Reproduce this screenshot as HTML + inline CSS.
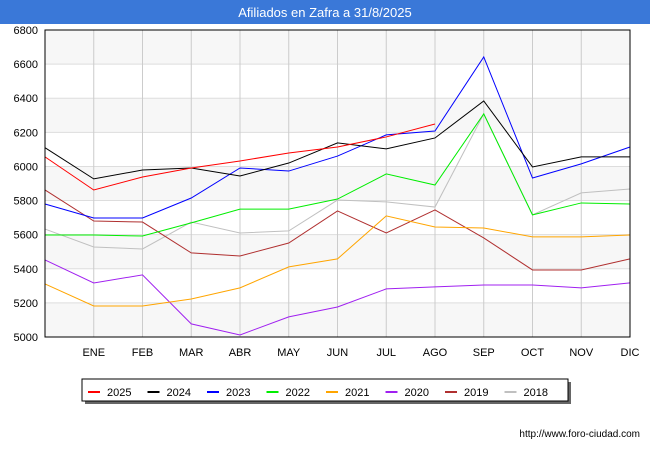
<!DOCTYPE html>
<html><head><meta charset="utf-8"><style>
body{margin:0;width:650px;height:450px;background:#fff;font-family:"Liberation Sans",sans-serif;overflow:hidden}
</style></head><body>
<svg width="650" height="450" xmlns="http://www.w3.org/2000/svg" font-family="Liberation Sans, sans-serif">
<rect x="0" y="0" width="650" height="24" fill="#3a78d8"/>
<text x="325" y="17" text-anchor="middle" fill="#fff" font-size="13">Afiliados en Zafra a 31/8/2025</text>
<g id="grid"></g><g id="series"></g>
<rect x="45" y="30" width="585" height="307" fill="none" stroke="#000" stroke-width="1"/>
<g id="legend"></g>
<text x="640" y="437" text-anchor="end" font-size="10" fill="#000">http://www.foro-ciudad.com</text>
</svg>
<script>
const months=["","ENE","FEB","MAR","ABR","MAY","JUN","JUL","AGO","SEP","OCT","NOV","DIC"];
const yTicks=[5000,5200,5400,5600,5800,6000,6200,6400,6600,6800];
const years=["2025","2024","2023","2022","2021","2020","2019","2018"];
const colors=["#ff0000","#000000","#0000ff","#00ee00","#ffa500","#a020f0","#b03030","#c0c0c0"];
const s2025=[6056,5862,5938,5991,6032,6079,6114,6173,6249];
const s2024=[6110,5927,5979,5991,5944,6020,6138,6103,6167,6384,5997,6056,6056];
const s2023=[5780,5698,5698,5815,5991,5973,6061,6185,6208,6642,5932,6015,6114];
const s2022=[5598,5598,5592,5669,5750,5750,5809,5956,5891,6308,5716,5786,5780];
const s2021=[5311,5182,5182,5223,5288,5411,5458,5710,5645,5639,5587,5587,5598];
const s2020=[5452,5317,5364,5077,5012,5118,5176,5282,5294,5305,5305,5288,5317];
const s2019=[5862,5680,5674,5493,5475,5551,5739,5610,5745,5581,5393,5393,5458];
const s2018=[5633,5528,5516,5674,5610,5622,5803,5792,5762,6308,5716,5845,5868];
const allSeries=[s2025,s2024,s2023,s2022,s2021,s2020,s2019,s2018];
const NS="http://www.w3.org/2000/svg";
const X=i=>45+i*48.75, Y=v=>337-(v-5000)*307/1800;
function mk(t,a,p){const e=document.createElementNS(NS,t);for(const k in a)e.setAttribute(k,a[k]);p.appendChild(e);return e;}
const g=document.getElementById('grid');
for(let i=0;i<yTicks.length-1;i++){if(i%2==0){const b=mk('rect',{x:45,y:Y(yTicks[i+1]),width:585,height:Y(yTicks[i])-Y(yTicks[i+1]),fill:'#f7f7f7'},g);

}}
yTicks.forEach(v=>{const l=mk('line',{x1:45,x2:630,y1:Y(v),y2:Y(v),stroke:'#ddd'},g);


const t=mk('text',{x:38,y:Y(v)+4,'text-anchor':'end','font-size':11},g);t.textContent=v;

});
months.forEach((m,i)=>{if(i==0)return;const l=mk('line',{x1:X(i),x2:X(i),y1:30,y2:337,stroke:'#ccc'},g);


const t=mk('text',{x:X(i),y:356,'text-anchor':'middle','font-size':11},g);t.textContent=m;

});
const sg=document.getElementById('series');
for(let k=allSeries.length-1;k>=0;k--){const p=mk('polyline',{points:allSeries[k].map((v,i)=>X(i)+','+Y(v)).join(' '),fill:'none',stroke:colors[k],'stroke-width':1},sg);

}
const lg=document.getElementById('legend');
mk('rect',{x:85,y:382,width:486,height:22,fill:'#666'},lg);
const box=mk('rect',{x:82,y:379,width:486,height:22,fill:'#fff',stroke:'#000'},lg);


years.forEach((y,k)=>{const x0=88+k*59.5;const l=mk('line',{x1:x0,x2:x0+12,y1:392,y2:392,stroke:colors[k],'stroke-width':2},lg);


const t=mk('text',{x:x0+19,y:396,'font-size':11},lg);t.textContent=y;

});
</script>
</body></html>
